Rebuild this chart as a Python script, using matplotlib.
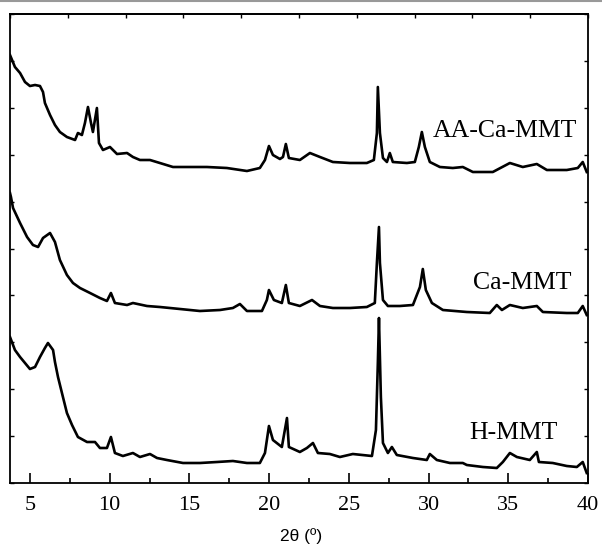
import numpy as np
import matplotlib.pyplot as plt
from matplotlib.lines import Line2D
from matplotlib.ticker import MultipleLocator, FixedLocator, NullFormatter

# XRD 图谱：三个样品，按偏移量上下叠放
two_theta_aa = [3.75, 4.06, 4.38, 4.69, 5.00, 5.32, 5.63, 5.82, 5.94, 6.26, 6.57, 6.88, 7.32, 7.83,
                8.01, 8.26, 8.45, 8.64, 8.83, 8.95, 9.20, 9.33, 9.58, 10.02, 10.46, 11.09, 11.46,
                11.90, 12.53, 13.15, 13.97, 14.85, 16.10, 17.35, 18.61, 19.42, 19.74, 19.99, 20.24,
                20.68, 20.87, 21.05, 21.24, 21.93, 22.56, 23.19, 24.00, 25.07, 26.13, 26.57, 26.76,
                26.82, 26.95, 27.14, 27.39, 27.57, 27.76, 28.64, 29.14, 29.39, 29.58, 29.77, 30.08,
                30.71, 31.52, 32.15, 32.78, 34.03, 35.10, 35.91, 36.79, 37.42, 38.67, 39.36, 39.67,
                39.92]
int_aa = [128, 116, 110, 101, 97, 98, 97, 91, 80, 68, 58, 51, 46, 43,
          50, 48, 60, 76, 60, 51, 75, 40, 33, 36, 29, 30, 26,
          23, 23, 20, 16, 16, 16, 15, 12, 15, 23, 37, 28,
          24, 26, 39, 25, 23, 30, 26, 21, 20, 20, 23, 50,
          96, 50, 25, 21, 30, 21, 20, 21, 36, 51, 36, 21,
          16, 15, 16, 11, 11, 20, 16, 19, 13, 13, 15, 21,
          11]

two_theta_ca = [3.75, 3.81, 3.94, 4.38, 4.82, 5.19, 5.51, 5.82, 6.26, 6.57, 6.88, 7.32, 7.70, 8.14,
                8.77, 9.39, 9.83, 10.08, 10.33, 11.09, 11.46, 12.34, 13.15, 14.41, 15.66, 16.92,
                17.73, 18.17, 18.61, 19.55, 19.86, 19.99, 20.30, 20.80, 21.05, 21.24, 21.93, 22.69,
                23.19, 24.00, 25.07, 26.13, 26.63, 26.76, 26.89, 26.95, 27.14, 27.45, 28.20, 29.02,
                29.46, 29.64, 29.83, 30.21, 30.90, 32.40, 33.84, 34.28, 34.60, 35.10, 35.91, 36.79,
                37.17, 38.67, 39.36, 39.67, 39.92]
int_ca = [140, 136, 125, 110, 96, 88, 86, 95, 100, 91, 73, 58, 50, 45,
          40, 35, 32, 40, 30, 28, 30, 27, 26, 24, 22, 23,
          25, 29, 22, 22, 33, 43, 33, 30, 48, 30, 27, 33,
          27, 25, 25, 26, 30, 70, 106, 70, 33, 27, 27, 28,
          46, 64, 43, 30, 23, 21, 20, 28, 23, 28, 25, 27,
          21, 20, 20, 27, 18]

two_theta_h = [3.75, 4.06, 4.38, 4.69, 5.00, 5.32, 5.63, 5.94, 6.13, 6.45, 6.57, 6.76, 7.07, 7.32,
               7.64, 8.01, 8.58, 9.08, 9.39, 9.83, 10.08, 10.33, 10.83, 11.46, 11.90, 12.53, 12.97,
               13.59, 14.60, 15.66, 16.73, 17.73, 18.61, 19.42, 19.74, 19.99, 20.24, 20.80, 21.12,
               21.24, 21.93, 22.37, 22.75, 23.06, 23.81, 24.44, 25.25, 26.45, 26.70, 26.82, 26.89,
               27.01, 27.14, 27.45, 27.70, 28.01, 29.02, 29.89, 30.08, 30.52, 31.34, 32.15, 32.40,
               33.41, 34.28, 34.66, 35.10, 35.54, 36.35, 36.79, 36.92, 37.79, 38.67, 39.30, 39.67,
               39.92]
int_h = [146, 133, 126, 120, 114, 116, 126, 135, 140, 133, 121, 106, 86, 70,
         58, 46, 41, 41, 35, 35, 46, 30, 27, 30, 26, 29, 25,
         23, 20, 20, 21, 22, 20, 20, 30, 57, 43, 36, 65,
         36, 31, 35, 40, 30, 29, 26, 29, 27, 53, 120, 165,
         86, 40, 30, 36, 28, 25, 23, 29, 23, 20, 20, 18,
         16, 15, 21, 30, 26, 23, 31, 21, 20, 17, 16, 21,
         10]

names = ['AA-Ca-MMT', 'Ca-MMT', 'H-MMT']
offsets = [300, 150, 0]
series = [(two_theta_aa, int_aa), (two_theta_ca, int_ca), (two_theta_h, int_h)]
label_pos = [(39.3, 352), (38.98, 200), (38.11, 50)]

serif = 'Liberation Serif'

fig = plt.figure(figsize=(6.02, 5.51), dpi=100)
ax = fig.add_axes([10 / 602, 68 / 551, 578 / 602, 469 / 551])

for (x, y), off in zip(series, offsets):
    ax.plot(x, np.array(y) + off, color='black', lw=1.9, solid_joinstyle='round')

for name, (lx, ly) in zip(names, label_pos):
    ax.text(lx, ly, name, ha='right', va='center', fontsize=18.5, family=serif)

ax.set_xlim(3.75, 40)
ax.set_ylim(0, 469)

ax.xaxis.set_major_locator(MultipleLocator(5))
ax.xaxis.set_minor_locator(MultipleLocator(2.5))
ax.yaxis.set_major_locator(FixedLocator(np.linspace(0, 469, 11)))
ax.yaxis.set_major_formatter(NullFormatter())
ax.tick_params(axis='x', which='major', direction='in', length=7, width=1.2,
               labelsize=16, pad=9)
ax.tick_params(axis='x', which='minor', direction='in', length=3.5, width=1.2)
ax.tick_params(axis='y', which='major', direction='in', length=3, width=1,
               left=True, right=True)
for lab in ax.get_xticklabels():
    lab.set_family(serif)

# 顶边的刻度单独均分为 10 段
top = ax.secondary_xaxis('top')
top.xaxis.set_major_locator(FixedLocator(np.linspace(3.75, 40, 11)))
top.xaxis.set_major_formatter(NullFormatter())
top.tick_params(direction='in', length=3, width=1)

for sp in ax.spines.values():
    sp.set_linewidth(1.3)
top.spines['top'].set_linewidth(1.3)

fig.text(0.5, 1 - 536 / 551, '2θ (º)', ha='center', va='center', fontsize=12.5,
         family='Liberation Sans')
fig.add_artist(Line2D([0, 1], [0.999, 0.999], color='#999999', lw=1.5,
                      transform=fig.transFigure))

fig.savefig('out.png', dpi=100)
